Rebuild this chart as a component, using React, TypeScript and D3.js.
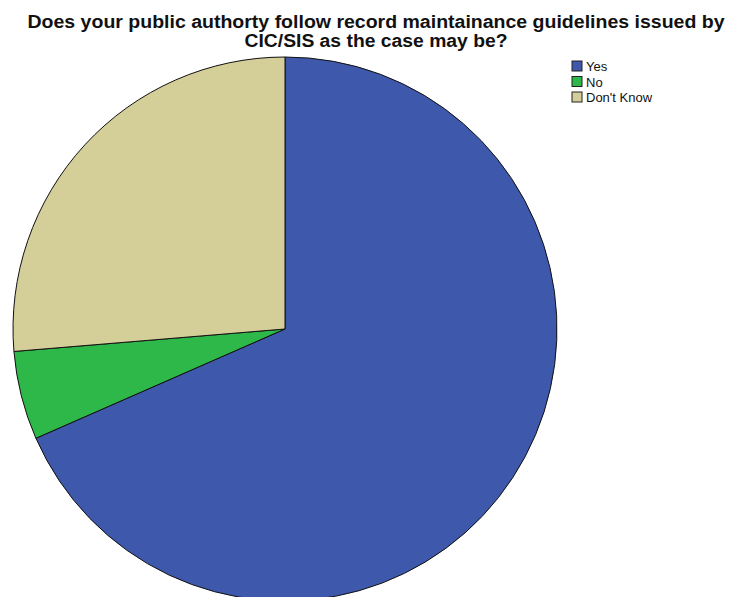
import React from "react";
import * as d3 from "d3";

const categories = ["Yes", "No", "Don't Know"];
const counts = [52, 4, 20];
const colors = ["#3E58AC", "#2FB84A", "#D4CE98"];
const titleLines = [
  "Does your public authorty follow record maintainance guidelines issued by",
  "CIC/SIS as the case may be?",
];
const titleWidths = [697, 263];

export default function App() {
  const width = 729;
  const height = 597;
  const cx = 285;
  const cy = 329;
  const r = 272;
  const pie = d3.pie<number>().sort(null).value((d) => d);
  const arcs = pie(counts);
  const arc = d3.arc<d3.PieArcDatum<number>>().innerRadius(0).outerRadius(r);
  return (
    <svg
      width={width}
      height={height}
      style={{ position: "absolute", left: 0, top: 0, background: "#fff" }}
    >
      <g transform={`translate(${cx},${cy})`}>
        {arcs.map((a, i) => (
          <path
            key={i}
            d={arc(a) || ""}
            fill={colors[i]}
            stroke="#111"
            strokeWidth={1}
          />
        ))}
      </g>
      {titleLines.map((t, i) => (
        <text
          key={i}
          x={376}
          y={28 + i * 18.7}
          textAnchor="middle"
          fontFamily="Liberation Sans, Arial, sans-serif"
          fontWeight="bold"
          fontSize={18}
          textLength={titleWidths[i]}
          lengthAdjust="spacingAndGlyphs"
          fill="#111"
        >
          {t}
        </text>
      ))}
      {categories.map((c, i) => (
        <g key={c} transform={`translate(572,${61 + i * 15.5})`}>
          <rect x={0} y={0} width={10} height={10} fill={colors[i]} stroke="#222" strokeWidth={1} />
          <text
            x={14}
            y={10}
            fontFamily="Liberation Sans, Arial, sans-serif"
            fontSize={13}
            fill="#111"
          >
            {c}
          </text>
        </g>
      ))}
    </svg>
  );
}
